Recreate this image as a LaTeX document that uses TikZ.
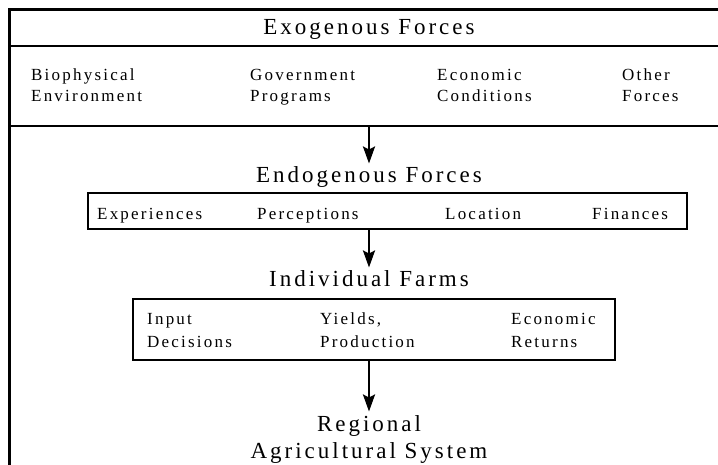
\documentclass[tikz,border=0pt]{standalone}
\usepackage{fontspec}
\setmainfont[LetterSpace=13]{Liberation Serif}
\usetikzlibrary{arrows.meta}

\begin{document}
\begin{tikzpicture}[x=1pt,y=-1pt,
    head/.style={font=\fontsize{23}{27}\selectfont,anchor=base},
    item/.style={font=\fontsize{17}{21}\selectfont,align=left,anchor=base west,inner sep=0pt},
    farmitem/.style={item,font=\fontsize{17}{24}\selectfont},
    box/.style={draw,line width=2.5pt},
    flow/.style={line width=2.5pt,-{Stealth[length=17pt,width=12pt,inset=3pt]}}]
  \useasboundingbox (0,0) rectangle (718,465);
  % exogenous panel
  \draw[line width=3.5pt] (718,9.5) -| (9.5,465);
  \draw[line width=2pt] (9.5,46.5) -- (718,46.5);
  \draw[line width=2.5pt] (9.5,126) -- (718,126);
  \node[head] (exo) at (369,35) {Exogenous Forces};
  \node[item] (bio) at (31,102) {Biophysical\\Environment};
  \node[item] (gov) at (250,102) {Government\\Programs};
  \node[item] (econ) at (437,102) {Economic\\Conditions};
  \node[item] (other) at (622,102) {Other\\Forces};
  \coordinate (exobot) at (369,126);
  % endogenous forces
  \node[head] (endo) at (369,183) {Endogenous Forces};
  \node[box,minimum width=599,minimum height=36] (endobox) at (387.5,211) {};
  \node[item] (exp) at (97,220) {Experiences};
  \node[item] (perc) at (257,220) {Perceptions};
  \node[item] (loc) at (445,220) {Location};
  \node[item] (fin) at (592,220) {Finances};
  % farms
  \node[head] (farms) at (369,287) {Individual Farms};
  \node[box,minimum width=482,minimum height=61] (farmbox) at (374,329.5) {};
  \node[farmitem] (input) at (147,348) {Input\\Decisions};
  \node[farmitem] (yield) at (320,348) {Yields,\\Production};
  \node[farmitem] (ret) at (511,348) {Economic\\Returns};
  \node[head,align=center] (region) at (369,458) {Regional\\Agricultural System};
  \draw[flow] (exobot) -- (endo);
  \draw[flow] (endobox.south -| endo) -- (farms);
  \draw[flow] (farmbox.south -| region) -- (region);
\end{tikzpicture}
\end{document}
